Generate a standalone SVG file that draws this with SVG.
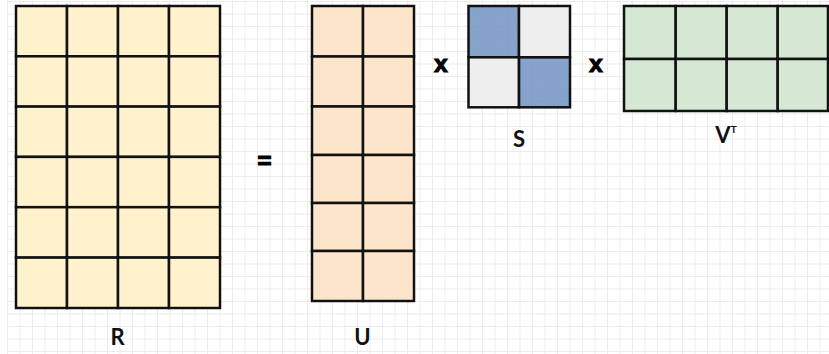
<svg xmlns="http://www.w3.org/2000/svg" width="829" height="354" viewBox="0 0 829 354">
<style>
.cell{stroke:#111;stroke-width:2.5}
.r{fill:#fff2cc}
.u{fill:#fde5cc}
.g{fill:#eeeeee}
.b{fill:#6c8ebf;fill-opacity:0.82}
.v{fill:#d5e8d4}
.lbl{font-family:Lato,"Liberation Sans",sans-serif;font-weight:bold;font-size:22px;fill:#111;text-anchor:middle}
.op{font-family:"Liberation Sans",Arial,sans-serif;font-weight:bold;font-size:24px;fill:#000;stroke:#000;stroke-width:1.2;text-anchor:middle}
</style>
<defs>
<pattern id="grid" patternUnits="userSpaceOnUse" x="7" y="1" width="12.5" height="12.5">
<path d="M0 0.5H12.5M0.5 0V12.5" stroke="#ececec" stroke-width="1" fill="none"/>
</pattern>
</defs>
<rect width="829" height="354" fill="#ffffff"/>
<rect x="6.5" y="0.5" width="823" height="354" fill="url(#grid)"/>

<g id="R">
<g class="cell r">
<rect x="16" y="6" width="51" height="50.3"/><rect x="67" y="6" width="51" height="50.3"/><rect x="118" y="6" width="51" height="50.3"/><rect x="169" y="6" width="51" height="50.3"/>
<rect x="16" y="56.3" width="51" height="50.3"/><rect x="67" y="56.3" width="51" height="50.3"/><rect x="118" y="56.3" width="51" height="50.3"/><rect x="169" y="56.3" width="51" height="50.3"/>
<rect x="16" y="106.6" width="51" height="50.3"/><rect x="67" y="106.6" width="51" height="50.3"/><rect x="118" y="106.6" width="51" height="50.3"/><rect x="169" y="106.6" width="51" height="50.3"/>
<rect x="16" y="156.9" width="51" height="50.3"/><rect x="67" y="156.9" width="51" height="50.3"/><rect x="118" y="156.9" width="51" height="50.3"/><rect x="169" y="156.9" width="51" height="50.3"/>
<rect x="16" y="207.2" width="51" height="50.4"/><rect x="67" y="207.2" width="51" height="50.4"/><rect x="118" y="207.2" width="51" height="50.4"/><rect x="169" y="207.2" width="51" height="50.4"/>
<rect x="16" y="257.6" width="51" height="50.4"/><rect x="67" y="257.6" width="51" height="50.4"/><rect x="118" y="257.6" width="51" height="50.4"/><rect x="169" y="257.6" width="51" height="50.4"/>
</g>
<text class="lbl" x="117.5" y="345">R</text>
</g>

<g id="equals">
<text class="op" x="264.5" y="169">=</text>
</g>

<g id="U">
<g class="cell u">
<rect x="312" y="6" width="51" height="50.5"/><rect x="363" y="6" width="51" height="50.5"/>
<rect x="312" y="56.5" width="51" height="50"/><rect x="363" y="56.5" width="51" height="50"/>
<rect x="312" y="106.5" width="51" height="48.5"/><rect x="363" y="106.5" width="51" height="48.5"/>
<rect x="312" y="155" width="51" height="48"/><rect x="363" y="155" width="51" height="48"/>
<rect x="312" y="203" width="51" height="48"/><rect x="363" y="203" width="51" height="48"/>
<rect x="312" y="251" width="51" height="50"/><rect x="363" y="251" width="51" height="50"/>
</g>
<text class="lbl" x="362.5" y="345">U</text>
</g>

<g id="times1">
<text class="op" x="441" y="72">x</text>
</g>

<g id="S">
<g class="cell">
<rect class="b" x="468.5" y="6" width="50.5" height="51.3"/>
<rect class="g" x="519" y="6" width="51" height="51.3"/>
<rect class="g" x="468.5" y="57.3" width="50.5" height="50"/>
<rect class="b" x="519" y="57.3" width="51" height="50"/>
</g>
<text class="lbl" x="519" y="146.5">S</text>
</g>

<g id="times2">
<text class="op" x="596" y="72">x</text>
</g>

<g id="VT">
<g class="cell v">
<rect x="624" y="6" width="51.7" height="53"/><rect x="675.7" y="6" width="51" height="53"/><rect x="726.7" y="6" width="51" height="53"/><rect x="777.7" y="6" width="50.3" height="53"/>
<rect x="624" y="59" width="51.7" height="52"/><rect x="675.7" y="59" width="51" height="52"/><rect x="726.7" y="59" width="51" height="52"/><rect x="777.7" y="59" width="50.3" height="52"/>
</g>
<text class="lbl" x="726" y="143.3">V<tspan font-size="10" dy="-10">T</tspan></text>
</g>
</svg>
